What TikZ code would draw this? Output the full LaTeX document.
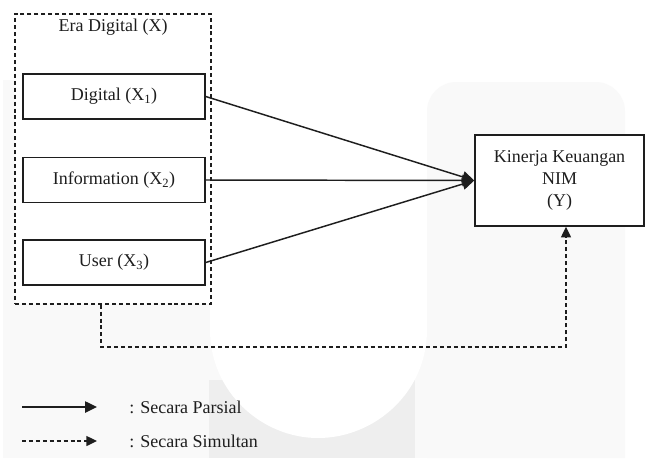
\documentclass[tikz,border=0pt]{standalone}
\usepackage{fontspec}
\setmainfont{Liberation Serif}
\usetikzlibrary{arrows.meta}
\definecolor{wmlight}{HTML}{F9F9F9}
\definecolor{wmdark}{HTML}{EEEEEE}
\definecolor{ink}{HTML}{1E1E1E}
\begin{document}
\begin{tikzpicture}[x=0.75pt,y=-0.75pt,
  txt/.style={font=\fontsize{13.5}{16.5}\selectfont, text=ink},
  varbox/.style={draw=ink, line width=1.1pt, fill=white, rectangle, inner sep=0pt,
    minimum width=136.5pt, minimum height=33.75pt, txt},
  groupbox/.style={draw=ink, line width=1pt, dash pattern=on 3pt off 2.2pt, fill=white,
    rectangle, inner sep=0pt, minimum width=147pt, minimum height=217.5pt},
  ybox/.style={draw=ink, line width=1.1pt, fill=white, rectangle, inner sep=0pt,
    minimum width=126.75pt, minimum height=68.25pt, txt, align=center},
  partial/.style={draw=ink, line width=1.1pt, -{Triangle[length=9pt,width=8.5pt]}},
  simult/.style={draw=ink, line width=1pt, dash pattern=on 3pt off 2.2pt,
    -{Triangle[length=8pt,width=7.5pt]}}
]
\useasboundingbox (0,0) rectangle (645,458);
\fill[white] (0,0) rectangle (645,458);
% faint watermark
\fill[wmlight] (3,80) rectangle (210,458);
\fill[wmlight, rounded corners=22pt] (427,458) -- (427,82) -- (625,82) [sharp corners] -- (625,458) -- cycle;
\fill[wmlight] (209,300) rectangle (428,458);
\fill[wmdark] (209,380) rectangle (415,458);
\fill[white] (210,0) -- (210,330) .. controls (210,392) and (262,438) .. (318,438)
  .. controls (375,438) and (427,392) .. (427,330) -- (427,0) -- cycle;
\fill[white] (0,0) rectangle (645,80);
\fill[white, rounded corners=22pt] (380,0) -- (380,82) -- (427,82) -- (427,0) -- cycle;

% group
\node[groupbox] (grp) at (113,159) {};
\node[txt] (title) at (113,27) {Era Digital (X)};
\node[varbox] (x1) at (114,96.5) {Digital (X\textsubscript{1})};
\node[varbox] (x2) at (114,180) {Information (X\textsubscript{2})};
\node[varbox] (x3) at (114,262.5) {User (X\textsubscript{3})};
\node[ybox] (y) at (559.5,180.5) {Kinerja Keuangan\\NIM\\(Y)};

\draw[partial] (x1.east) -- (y.west);
\draw[partial] (x2.east) -- (y.west);
\draw[partial] (x3.east) -- (y.west);

\coordinate (c1) at (101,347);
\coordinate (c2) at (566,347);
\draw[simult] (grp.south -| c1) -- (c1) -- (c2) -- (c2 |- y.south);

% legend
\coordinate (l1a) at (22,407);
\coordinate (l1b) at (97,407);
\coordinate (l2a) at (22,441);
\coordinate (l2b) at (97,441);
\draw[partial] (l1a) -- (l1b);
\draw[simult] (l2a) -- (l2b);
\node[txt, anchor=west, inner sep=0pt] (lt1) at (129,407) {: Secara Parsial};
\node[txt, anchor=west, inner sep=0pt] (lt2) at (129,441) {: Secara Simultan};
\end{tikzpicture}
\end{document}
